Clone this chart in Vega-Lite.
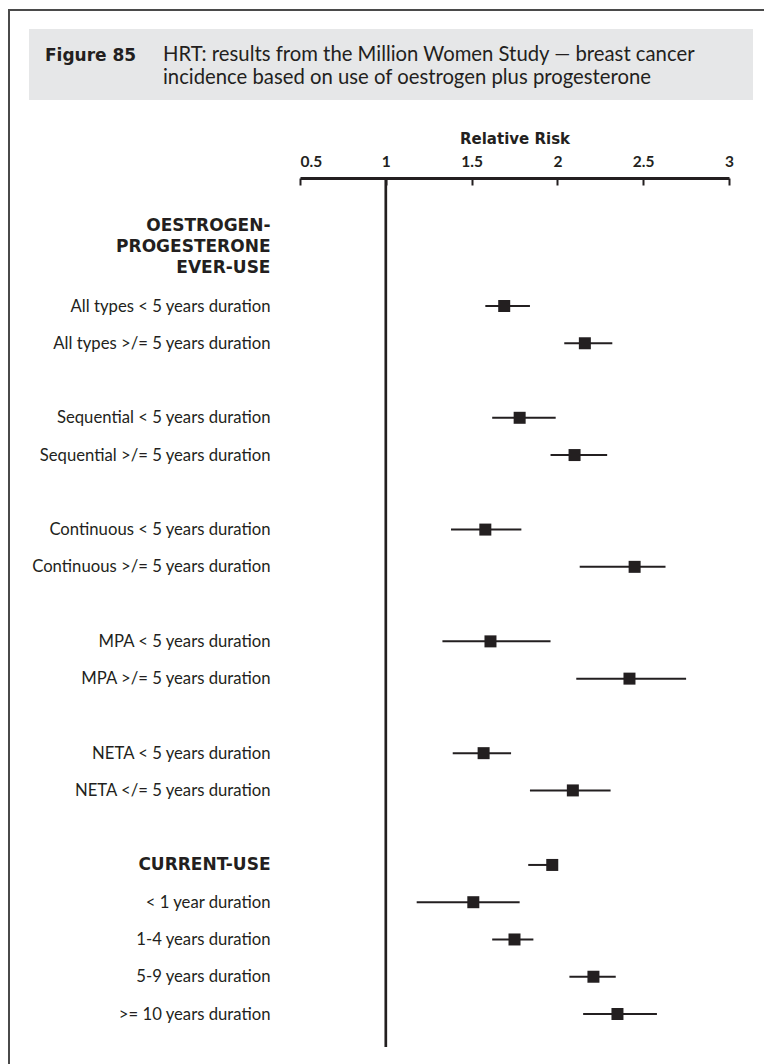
{
  "$schema": "https://vega.github.io/schema/vega-lite/v6.json",
  "width": 764,
  "height": 1064,
  "autosize": {"type": "none"},
  "padding": 0,
  "background": "white",
  "config": {
    "font": "Lato",
    "view": {"stroke": null},
    "axis": {"labelFont": "Lato", "titleFont": "Lato", "grid": false}
  },
  "resolve": {"scale": {"y": "independent"}, "axis": {"y": "independent"}},
  "layer": [
    {
      "data": {"values": [{}]},
      "layer": [
        {
          "mark": {"type": "rect", "fill": "#e6e7e8"},
          "encoding": {
            "x": {"datum": -1.0793, "type": "quantitative", "scale": {"domain": [0.5, 3], "range": [300, 729]}},
            "x2": {"datum": 3.1399},
            "y": {"datum": -6.434, "type": "quantitative", "scale": {"domain": [-7.2126, 21.3435], "range": [0, 1064]}, "axis": null},
            "y2": {"datum": -4.529}
          }
        },
        {
          "mark": {"type": "rect", "fill": "transparent", "stroke": "#4a4a4a", "strokeWidth": 2},
          "encoding": {
            "x": {"datum": -1.1958, "type": "quantitative", "scale": {"domain": [0.5, 3], "range": [300, 729]}},
            "x2": {"datum": 5},
            "y": {"datum": -6.944, "type": "quantitative", "scale": {"domain": [-7.2126, 21.3435], "range": [0, 1064]}, "axis": null},
            "y2": {"datum": 30}
          }
        },
        {
          "mark": {"type": "text", "text": "Figure 85", "font": "DejaVu Sans", "fontWeight": "bold", "fontSize": 17, "color": "#231f20", "align": "left", "baseline": "alphabetic"},
          "encoding": {
            "x": {"datum": -0.986, "type": "quantitative", "scale": {"domain": [0.5, 3], "range": [300, 729]}},
            "y": {"datum": -5.5754, "type": "quantitative", "scale": {"domain": [-7.2126, 21.3435], "range": [0, 1064]}, "axis": null}
          }
        },
        {
          "mark": {"type": "text", "text": ["HRT: results from the Million Women Study \u2014 breast cancer", "incidence based on use of oestrogen plus progesterone"], "font": "Lato", "fontSize": 20.3, "lineHeight": 23.3, "color": "#231f20", "align": "left", "baseline": "alphabetic"},
          "encoding": {
            "x": {"datum": -0.2984, "type": "quantitative", "scale": {"domain": [0.5, 3], "range": [300, 729]}},
            "y": {"datum": -5.5754, "type": "quantitative", "scale": {"domain": [-7.2126, 21.3435], "range": [0, 1064]}, "axis": null}
          }
        },
        {
          "mark": {"type": "rule", "color": "#231f20", "strokeWidth": 2.7},
          "encoding": {
            "x": {"datum": 1, "type": "quantitative", "scale": {"domain": [0.5, 3], "range": [300, 729]}},
            "y": {"datum": -2.435, "type": "quantitative", "scale": {"domain": [-7.2126, 21.3435], "range": [0, 1064]}, "axis": null},
            "y2": {"datum": 20.887}
          }
        }
      ]
    },
    {
      "data": {
        "values": [
          {"label": "All types < 5 years duration", "rr": 1.69, "lo": 1.58, "hi": 1.84},
          {"label": "All types >/= 5 years duration", "rr": 2.16, "lo": 2.04, "hi": 2.32},
          {"label": "Sequential < 5 years duration", "rr": 1.78, "lo": 1.62, "hi": 1.99},
          {"label": "Sequential >/= 5 years duration", "rr": 2.10, "lo": 1.96, "hi": 2.29},
          {"label": "Continuous < 5 years duration", "rr": 1.58, "lo": 1.38, "hi": 1.79},
          {"label": "Continuous >/= 5 years duration", "rr": 2.45, "lo": 2.13, "hi": 2.63},
          {"label": "MPA < 5 years duration", "rr": 1.61, "lo": 1.33, "hi": 1.96},
          {"label": "MPA >/= 5 years duration", "rr": 2.42, "lo": 2.11, "hi": 2.75},
          {"label": "NETA < 5 years duration", "rr": 1.57, "lo": 1.39, "hi": 1.73},
          {"label": "NETA </= 5 years duration", "rr": 2.09, "lo": 1.84, "hi": 2.31},
          {"label": "CURRENT-USE", "rr": 1.97, "lo": 1.83, "hi": 2.00},
          {"label": "< 1 year duration", "rr": 1.51, "lo": 1.18, "hi": 1.78},
          {"label": "1-4 years duration", "rr": 1.75, "lo": 1.62, "hi": 1.86},
          {"label": "5-9 years duration", "rr": 2.21, "lo": 2.07, "hi": 2.34},
          {"label": ">= 10 years duration", "rr": 2.35, "lo": 2.15, "hi": 2.58}
        ]
      },
      "encoding": {
        "y": {
          "field": "label",
          "type": "nominal",
          "scale": {
            "type": "point",
            "domain": ["OESTROGEN-PROGESTERONE EVER-USE", "All types < 5 years duration", "All types >/= 5 years duration", "gap1", "Sequential < 5 years duration", "Sequential >/= 5 years duration", "gap2", "Continuous < 5 years duration", "Continuous >/= 5 years duration", "gap3", "MPA < 5 years duration", "MPA >/= 5 years duration", "gap4", "NETA < 5 years duration", "NETA </= 5 years duration", "gap5", "CURRENT-USE", "< 1 year duration", "1-4 years duration", "5-9 years duration", ">= 10 years duration"],
            "range": [268.74, 1014],
            "padding": 0
          },
          "axis": {
            "orient": "left",
            "offset": -270,
            "title": null,
            "domain": false,
            "ticks": false,
            "labelPadding": 0,
            "labelColor": "#231f20",
            "labelLimit": 0,
            "labelLineHeight": 21,
            "labelBaseline": "middle",
            "labelFont": {"condition": {"test": "datum.value == 'CURRENT-USE' || datum.value == 'OESTROGEN-PROGESTERONE EVER-USE'", "value": "DejaVu Sans"}, "value": "Lato"},
            "labelFontSize": {"condition": {"test": "datum.value == 'CURRENT-USE' || datum.value == 'OESTROGEN-PROGESTERONE EVER-USE'", "value": 17}, "value": 16.7},
            "labelFontWeight": {"condition": {"test": "datum.value == 'CURRENT-USE' || datum.value == 'OESTROGEN-PROGESTERONE EVER-USE'", "value": "bold"}, "value": "normal"},
            "labelOffset": {"condition": {"test": "datum.value == 'OESTROGEN-PROGESTERONE EVER-USE'", "value": -43}, "value": 0},
            "labelExpr": "indexof(datum.value, 'gap') == 0 ? '' : (datum.value == 'OESTROGEN-PROGESTERONE EVER-USE' ? ['OESTROGEN-', 'PROGESTERONE', 'EVER-USE'] : datum.value)"
          }
        }
      },
      "layer": [
        {
          "mark": {"type": "rule", "color": "#231f20", "strokeWidth": 2},
          "encoding": {
            "x": {
              "field": "lo",
              "type": "quantitative",
              "scale": {"domain": [0.5, 3], "range": [300, 729]},
              "axis": {
                "orient": "top",
                "offset": -178,
                "values": [0.5, 1, 1.5, 2, 2.5, 3],
                "format": "~g",
                "title": "Relative Risk",
                "domainColor": "#231f20",
                "domainWidth": 3,
                "tickColor": "#231f20",
                "tickWidth": 2,
                "tickSize": -7,
                "labelFontSize": 15.5,
                "labelFontWeight": "bold",
                "labelColor": "#231f20",
                "labelPadding": 16,
                "labelFlush": false,
                "labelAlign": {"condition": {"test": "datum.value == 0.5", "value": "left"}, "value": "center"},
                "titleFont": "DejaVu Sans",
                "titleFontSize": 15,
                "titleFontWeight": "bold",
                "titleColor": "#231f20",
                "titlePadding": 8
              }
            },
            "x2": {"field": "hi"}
          }
        },
        {
          "mark": {"type": "square", "size": 144, "opacity": 1, "filled": true, "color": "#231f20"},
          "encoding": {
            "x": {"field": "rr", "type": "quantitative", "scale": {"domain": [0.5, 3], "range": [300, 729]}}
          }
        }
      ]
    }
  ]
}
